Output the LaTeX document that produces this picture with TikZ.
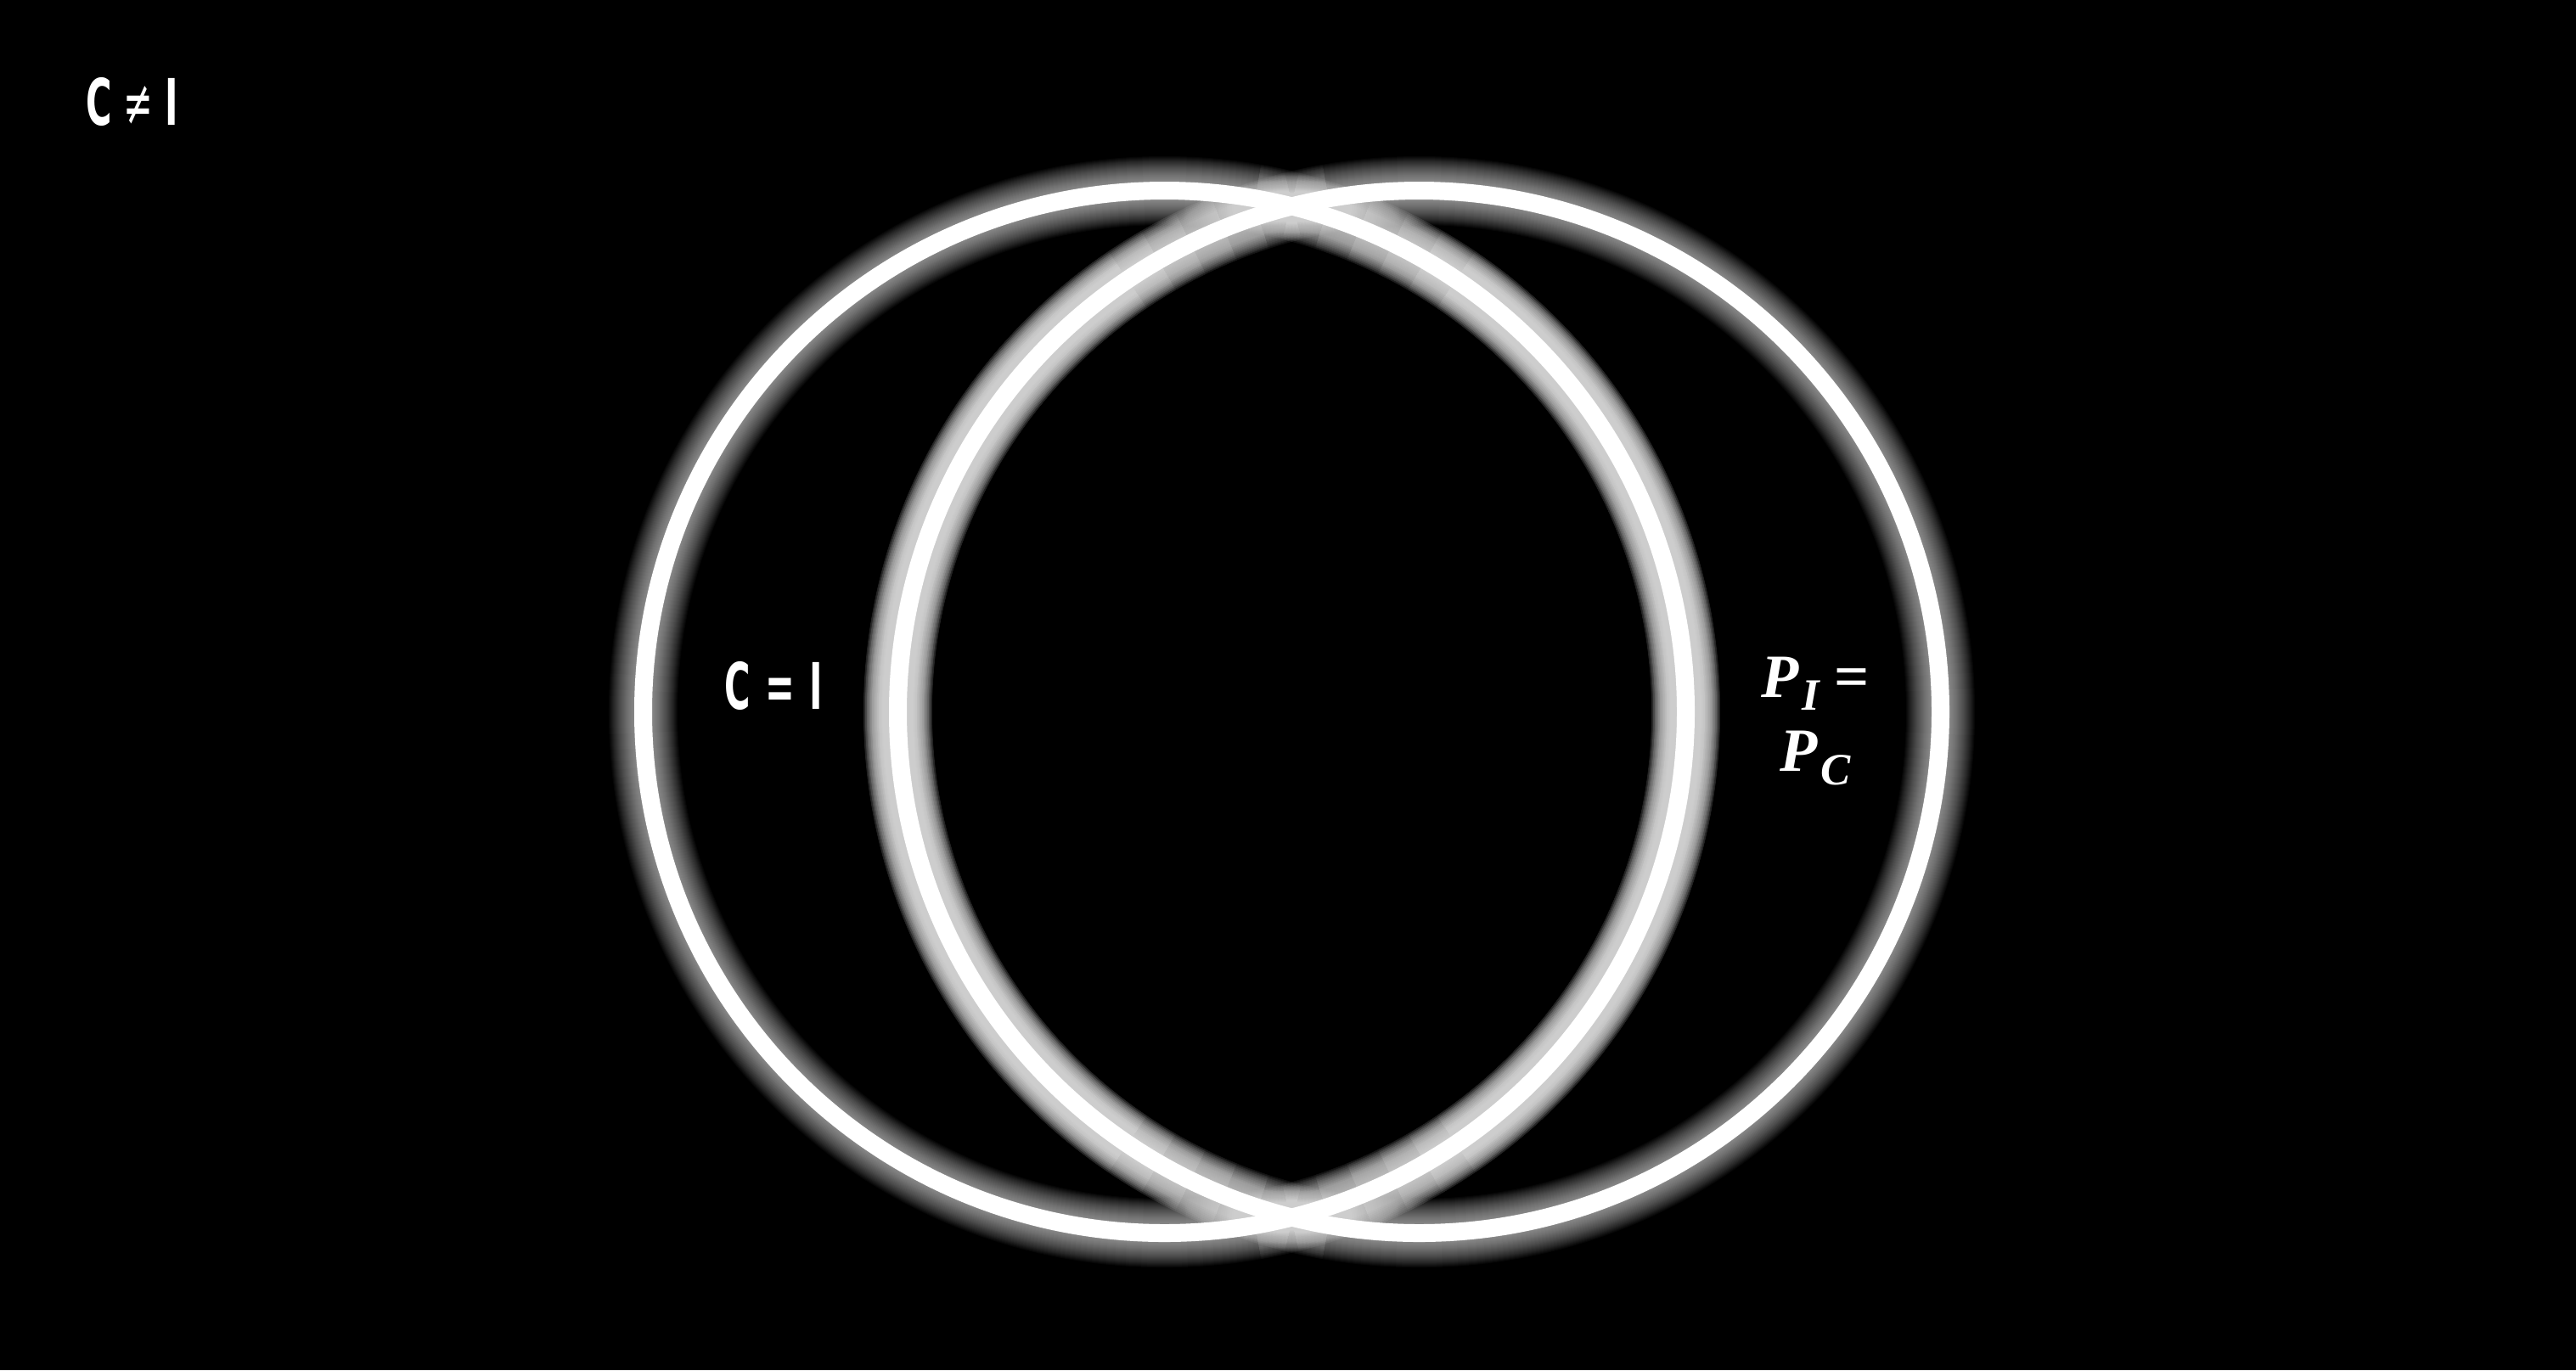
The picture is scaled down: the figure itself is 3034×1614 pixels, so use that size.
\documentclass[tikz,border=0pt]{standalone}
\usepackage{fontspec}
\newfontfamily\condfont[FakeStretch=0.55]{DejaVu Sans}
\newfontfamily\pfont{Liberation Serif}
\begin{document}
\begin{tikzpicture}[x=0.01cm,y=-0.01cm,
  ring/.style={draw=white,line width=0.21cm},
  glowlayer/.style={draw=white,opacity=0.028},
  lensglow/.style={draw=white,opacity=0.02},
  lbl/.style={text=white,inner sep=0pt,font=\condfont\bfseries\fontsize{21.5}{24}\selectfont},
  plbl/.style={text=white,inner sep=0pt,align=center,font=\pfont\bfseries\itshape\fontsize{20.6}{24.75}\selectfont}]
\fill[black] (0,0) rectangle (3034,1614);
\useasboundingbox (0,0) rectangle (3034,1614);
\coordinate (cl) at (1371.5,838.5);
\coordinate (cr) at (1671.5,838.5);
% outer glow of both rings
\foreach \k [evaluate=\k as \w using 0.21+0.02*\k] in {1,...,30}{
  \draw[glowlayer,line width=\w cm] (cl) circle[radius=614];
  \draw[glowlayer,line width=\w cm] (cr) circle[radius=614];
}
% stronger glow on the inner (lens) arcs, fading out towards the crossings
\foreach \k [evaluate=\k as \w using 0.21+0.04*\k] in {6,...,15}{
  \foreach \e [evaluate=\e as \s using 180-\e] in {56,60,64,68,72,76,80}{
    \draw[lensglow,line width=\w cm] (cl) ++(-\e:614) arc[start angle=-\e,end angle=\e,radius=614];
    \draw[lensglow,line width=\w cm] (cr) ++(\s:614) arc[start angle=\s,end angle=360-\s,radius=614];
  }
}
\draw[ring] (cl) circle[radius=614];
\draw[ring] (cr) circle[radius=614];
% labels
\node[lbl] (neq) at (155.5,119.5) {C\hspace{4pt}{\mdseries ≠}\hspace{4pt}I};
\node[lbl] (eq) at (911,808) {C\hspace{5pt}=\hspace{5pt}I};
\node[plbl,anchor=north] (peq) at (2138,773) {P\hspace{1pt}\raisebox{-4.5pt}{\fontsize{15}{15}\selectfont I}\hspace{5pt}{\upshape =}\\ P\hspace{1pt}\raisebox{-4.5pt}{\fontsize{15}{15}\selectfont C}};
\end{tikzpicture}
\end{document}
